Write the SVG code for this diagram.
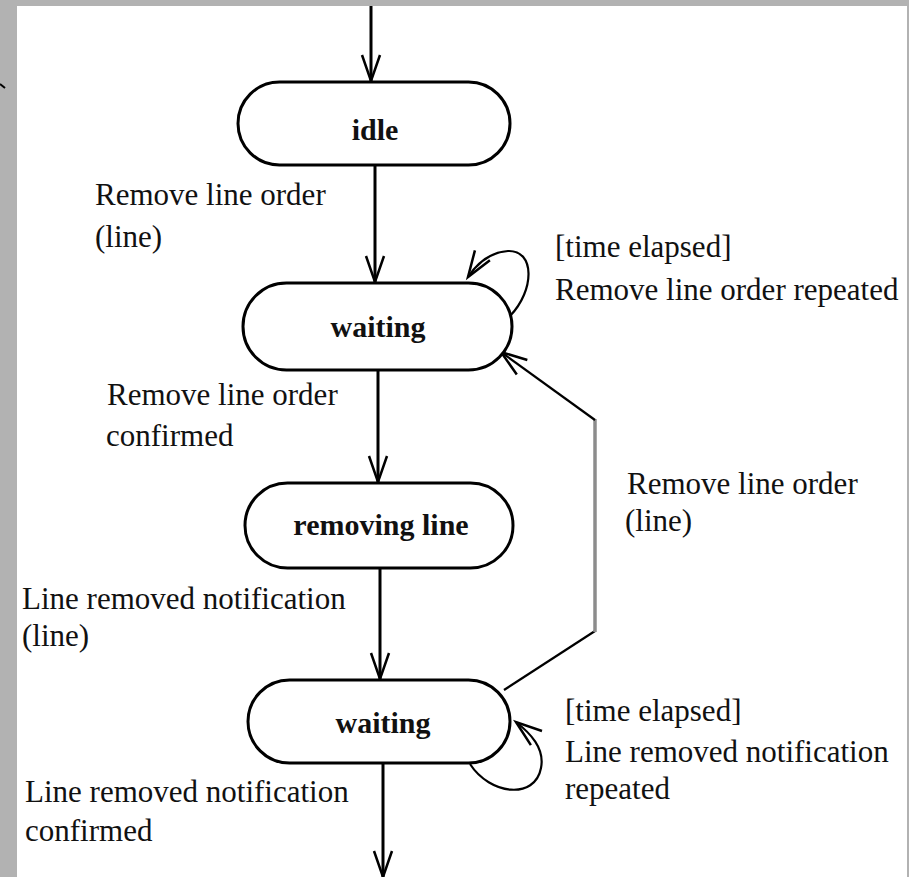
<svg xmlns="http://www.w3.org/2000/svg" width="909" height="877" viewBox="0 0 909 877">
<style>
.node{fill:#ffffff;stroke:#000;stroke-width:3}
.nt{font-family:"Liberation Serif","Times New Roman",serif;font-size:30px;font-weight:bold;text-anchor:middle;fill:#111}
.lb{font-family:"Liberation Serif","Times New Roman",serif;font-size:31px;fill:#111}
.edge{fill:none;stroke:#000;stroke-width:3;marker-end:url(#arr)}
.thin{fill:none;stroke:#000;stroke-width:2.2}
</style>
<defs>
<marker id="arr" markerUnits="userSpaceOnUse" markerWidth="40" markerHeight="30" refX="0" refY="0" viewBox="-30 -15 34 30" orient="auto">
<path d="M-26,-9 L0,0 L-26,9" fill="none" stroke="#000" stroke-width="2.5"/>
</marker>
</defs>
<rect x="0" y="0" width="909" height="877" fill="#b2b2b2"/>
<rect x="17" y="6" width="890" height="871" fill="#ffffff"/>
<line x1="0" y1="84" x2="5" y2="88" stroke="#000" stroke-width="2"/>

<g id="connectors">
<path class="edge" d="M371,6 L371,81"/>
<path class="edge" d="M375,165 L375,282"/>
<path class="edge" d="M378,370 L378,482"/>
<path class="edge" d="M380,568 L380,679"/>
<path class="edge" d="M383,763 L383,877"/>
<path class="thin" marker-end="url(#arr)" d="M510,316 C535,290 535,250 508,251 C492,252 478,262 468,277"/>
<path class="thin" marker-end="url(#arr)" d="M470,764 C490,795 535,800 541,768 C545,748 530,733 516,722"/>
<path class="thin" d="M504,690 L595,631"/>
<line x1="595" y1="632" x2="595" y2="419" stroke="#8c8c8c" stroke-width="3.5"/>
<path class="thin" marker-end="url(#arr)" d="M595,420 L501,352"/>
</g>

<g id="idle">
<rect class="node" x="238" y="82" width="272" height="83" rx="41.5"/>
<text class="nt" x="375" y="140">idle</text>
</g>
<g id="waiting1">
<rect class="node" x="243" y="283" width="269" height="87" rx="43.5"/>
<text class="nt" x="378" y="337">waiting</text>
</g>
<g id="removing_line">
<rect class="node" x="245" y="483" width="268" height="85" rx="42.5"/>
<text class="nt" x="381" y="535">removing line</text>
</g>
<g id="waiting2">
<rect class="node" x="248" y="680" width="262" height="83" rx="41.5"/>
<text class="nt" x="383" y="733">waiting</text>
</g>

<g id="labels">
<text class="lb" x="95" y="205">Remove line order</text>
<text class="lb" x="95" y="247">(line)</text>
<text class="lb" x="555" y="257">[time elapsed]</text>
<text class="lb" x="555" y="300">Remove line order repeated</text>
<text class="lb" x="107" y="405">Remove line order</text>
<text class="lb" x="106" y="446">confirmed</text>
<text class="lb" x="627" y="494">Remove line order</text>
<text class="lb" x="625" y="531">(line)</text>
<text class="lb" x="22" y="609">Line removed notification</text>
<text class="lb" x="22" y="646">(line)</text>
<text class="lb" x="565" y="721">[time elapsed]</text>
<text class="lb" x="565" y="762">Line removed notification</text>
<text class="lb" x="565" y="799">repeated</text>
<text class="lb" x="25" y="802">Line removed notification</text>
<text class="lb" x="25" y="841">confirmed</text>
</g>
</svg>
